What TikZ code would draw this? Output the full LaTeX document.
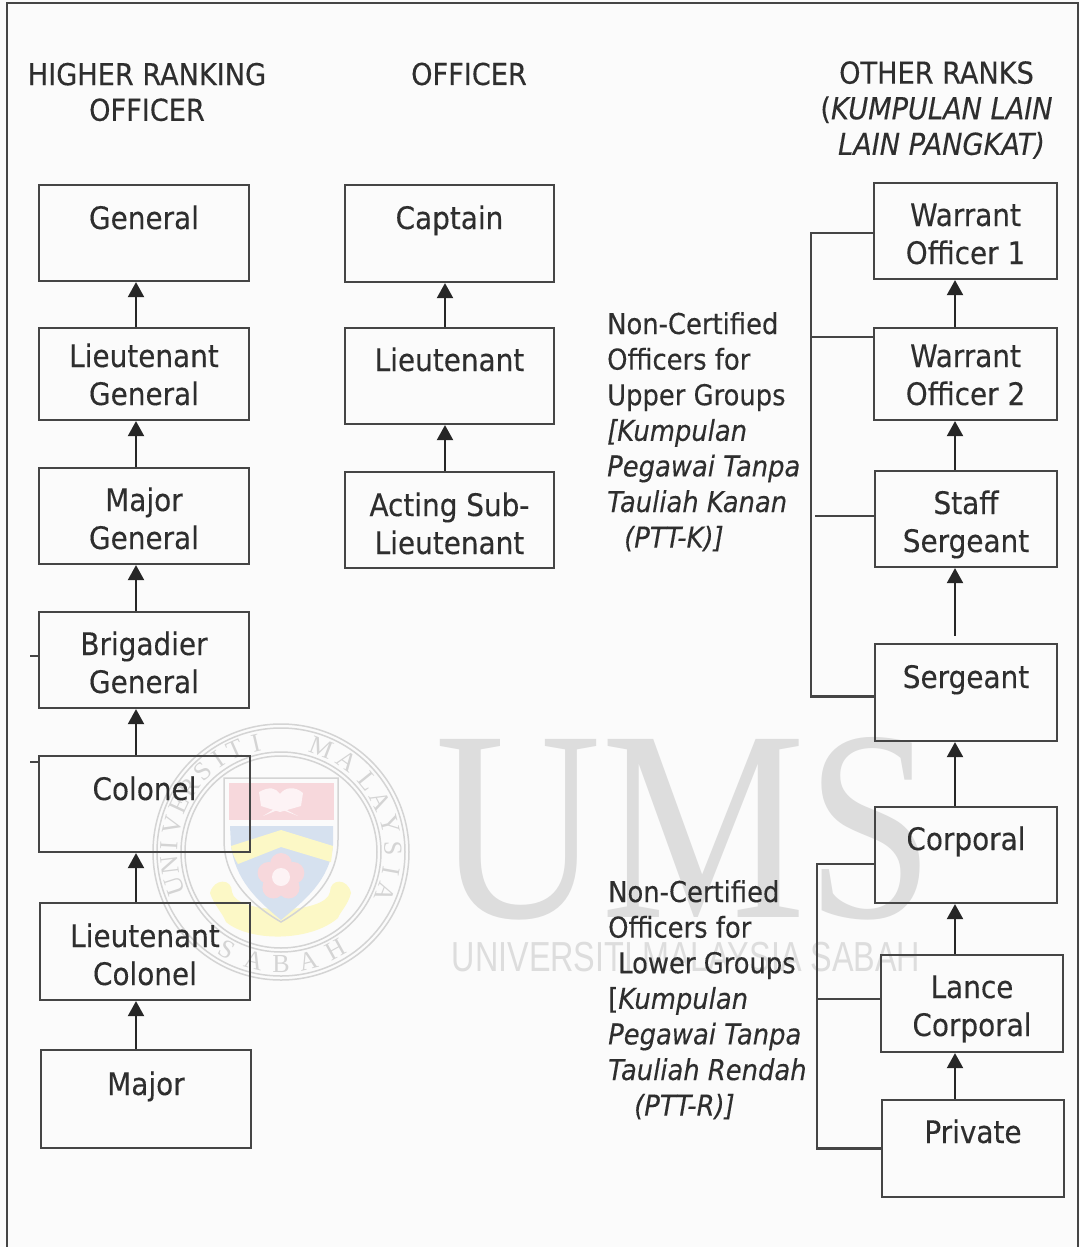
\documentclass[tikz,border=0pt]{standalone}
\usepackage{fontspec}
\setmainfont[FakeBold=0.25]{DejaVu Sans Condensed}
\newfontfamily\wmserif{Liberation Serif}
\newfontfamily\wmsans{Liberation Sans}
\usetikzlibrary{arrows.meta}
\definecolor{ink}{HTML}{2E2E2E}
\definecolor{edge}{HTML}{454545}
\definecolor{paper}{HTML}{FBFBFB}
\definecolor{wm}{HTML}{DDDDDD}
\definecolor{crest}{HTML}{D4D4D4}
\definecolor{cred}{HTML}{F7D8DC}
\definecolor{cblue}{HTML}{D6E1EF}
\definecolor{cyel}{HTML}{FCF8C6}
\tikzset{
  rankbox/.style={draw=edge,line width=2.2pt,inner sep=0pt,text=ink,
    font=\fontsize{31}{38}\selectfont},
  headtext/.style={align=center,text=ink,inner sep=0pt,font=\fontsize{30.2}{35.6}\selectfont},
  sidetext/.style={align=left,anchor=north west,text=ink,inner sep=0pt,font=\fontsize{28.7}{35.6}\selectfont},
  uparrow/.style={draw=black!85,line width=2pt,-{Triangle[width=16pt,length=15pt]}},
  bracket/.style={draw=edge,line width=2.2pt},
  crestletter/.style={text=crest,inner sep=0pt,font=\wmserif\fontsize{26}{26}\selectfont},
  crestring/.style={draw=crest,line width=1.5pt},
}
% name, x, y, width, height, raise of first baseline above the box centre, lines
\newcommand{\rank}[7]{\node[rankbox,minimum width=#4 pt,minimum height=#5 pt] (#1) at (#2,#3)
  {\raisebox{#6pt}[0pt][0pt]{\begin{tabular}[t]{@{}c@{}}#7\end{tabular}}};}
\begin{document}
\begin{tikzpicture}[x=1pt,y=-1pt]
\useasboundingbox (0,0) rectangle (1080,1247);
\fill[paper] (0,0) rectangle (1080,1247);
% watermark
\node[text=wm,inner sep=0pt,anchor=base,xscale=0.845,font=\wmserif\fontsize{272}{272}\selectfont] (wmums) at (685,917) {UMS};
\node[text=wm,inner sep=0pt,anchor=base,xscale=0.77,font=\wmsans\fontsize{42}{42}\selectfont] (wmname) at (686,971) {UNIVERSITI MALAYSIA SABAH};
% crest
\draw[crestring] (281,852) circle (128);
\draw[crestring] (281,852) circle (124);
\draw[crestring] (281,852) circle (100);
\draw[crestring] (281,852) circle (96);
\foreach \a/\l [count=\i] in {198/U,187/N,177/I,166/V,155/E,145/R,134/S,124/I,114/T,103/I,69/M,54/A,39/L,27/A,14/Y,2/S,-10/I,-21/A}
  \node[crestletter,rotate=\a-90] (cl\i) at (281+112*cos \a,852-112*sin \a) {\l};
\foreach \a/\l [count=\i] in {241/S,256/A,270/B,284/A,299/H}
  \node[crestletter,rotate=\a+90] (cb\i) at (281+112*cos \a,852-112*sin \a) {\l};
\fill[cyel] (210,893) .. controls (214,878) and (232,878) .. (232,892) .. controls (236,915) and (326,915) .. (330,892) .. controls (330,878) and (348,878) .. (351,893) .. controls (348,905) and (340,912) .. (338,918) .. controls (310,942) and (250,942) .. (226,922) .. controls (222,912) and (214,905) .. (210,893) -- cycle;
\draw[crestring] (224,778) -- (338,778) -- (338,840) .. controls (338,880) and (310,905) .. (281,922) .. controls (252,905) and (224,880) .. (224,840) -- cycle;
\fill[cred] (229,783) rectangle (334,820);
\fill[cblue] (230,826) -- (333,826) -- (333,845) .. controls (330,880) and (305,900) .. (281,920) .. controls (257,900) and (235,880) .. (231,845) -- cycle;
\fill[cyel] (231,846) -- (281,830) -- (333,846) -- (331,862) -- (281,847) -- (238,864) .. controls (234,858) and (232,852) .. (231,846) -- cycle;
\fill[white!70!cred] (259,792) .. controls (270,786) and (276,788) .. (280,794) .. controls (285,787) and (295,786) .. (303,793) -- (301,806) -- (280,812) -- (261,806) -- cycle;
\fill[white!70!cred] (263,816) -- (279,806) -- (298,816) -- (280,809) -- cycle;
\foreach \a in {90,162,234,306,18} \fill[cred] (281+13*cos \a,877-13*sin \a) circle (11);
\fill[white!70!cred] (281,877) circle (9);
% frame
\draw[draw=edge,line width=2.2pt] (7,1260) -- (7,3) -- (1078,3) -- (1078,1260);
% higher ranking
\rank{gen}{144}{233}{210}{96}{4}{General}
\rank{ltg}{144}{374}{210}{92}{7}{Lieutenant\\General}
\rank{mjg}{144}{516}{210}{96}{5}{Major\\General}
\rank{brg}{144}{660}{210}{96}{5}{Brigadier\\General}
\rank{col}{144.5}{804}{211}{96}{4}{Colonel}
\rank{ltc}{145}{951.5}{210}{97}{4.5}{Lieutenant\\Colonel}
\rank{maj}{146}{1099}{210}{98}{4}{Major}
% officer
\rank{cap}{449.5}{233.5}{209}{97}{4.5}{Captain}
\rank{ltn}{449.5}{376}{209}{96}{5}{Lieutenant}
\rank{act}{449.5}{520}{209}{96}{4}{Acting Sub-\\Lieutenant}
% other ranks
\rank{wao}{965.5}{231}{183}{96}{5}{Warrant\\Officer 1}
\rank{wat}{965.5}{374}{183}{92}{7}{Warrant\\Officer 2}
\rank{ssg}{966}{519}{182}{96}{5}{Staff\\Sergeant}
\rank{sgt}{966}{692.5}{182}{97}{4.5}{Sergeant}
\rank{cpl}{966}{855}{182}{96}{5}{Corporal}
\rank{lcp}{972}{1003.5}{182}{97}{5.5}{Lance\\Corporal}
\rank{pvt}{973}{1148.5}{182}{97}{5.5}{Private}
% headers
\node[headtext] (h1) at (147,92) {HIGHER RANKING\\OFFICER};
\node[headtext] (h2) at (469,74) {OFFICER};
\node[headtext] (h3) at (936.5,110) {OTHER RANKS\\(\textit{KUMPULAN LAIN}\hspace*{5pt}\\\hspace*{10pt}\textit{LAIN PANGKAT)}};
% side texts
\node[sidetext] (s1) at (607,312) {Non-Certified\\Officers for\\Upper Groups\\\textit{[Kumpulan}\\\textit{Pegawai Tanpa}\\\textit{Tauliah Kanan}\\\hspace*{17pt}\textit{(PTT-K)]}};
\node[sidetext] (s2) at (608,880) {Non-Certified\\Officers for\\\hspace*{10pt}Lower Groups\\{[}\textit{Kumpulan}\\\textit{Pegawai Tanpa}\\\textit{Tauliah Rendah}\\\hspace*{26pt}\textit{(PTT-R)]}};
% arrows
\coordinate (ax) at (136,0);
\coordinate (bx) at (445,0);
\coordinate (cx) at (955,0);
\foreach \lo/\hi in {ltg/gen,mjg/ltg,brg/mjg,col/brg,ltc/col,maj/ltc}
  \draw[uparrow] (\lo.north -| ax) -- (\hi.south -| ax);
\foreach \lo/\hi in {ltn/cap,act/ltn}
  \draw[uparrow] (\lo.north -| bx) -- (\hi.south -| bx);
\foreach \lo/\hi in {wat/wao,ssg/wat,cpl/sgt,lcp/cpl,pvt/lcp}
  \draw[uparrow] (\lo.north -| cx) -- (\hi.south -| cx);
\draw[uparrow,shorten <=7pt] (sgt.north -| cx) -- (ssg.south -| cx);
% brackets
\coordinate (tu) at (811,460);
\coordinate (tl) at (817,1000);
\draw[bracket] ([yshift=-2pt]wao.west) -| (tu) |- ([yshift=-4pt]sgt.west);
\draw[bracket] ([yshift=37pt]wat.west) -- ([yshift=37pt]wat.west -| tu);
\draw[bracket,shorten >=4pt] ([yshift=3pt]ssg.west) -- ([yshift=3pt]ssg.west -| tu);
\draw[bracket] ([yshift=-9pt]cpl.west) -| (tl) |- (pvt.west);
\draw[bracket] ([yshift=4.5pt]lcp.west) -- ([yshift=4.5pt]lcp.west -| tl);
% stubs
\coordinate (st) at (30,0);
\draw[bracket] ([yshift=4pt]brg.west) -- ([yshift=4pt]brg.west -| st);
\draw[bracket] ([yshift=-7pt]col.north west) -- ([yshift=-7pt]col.north west -| st);
\end{tikzpicture}
\end{document}
